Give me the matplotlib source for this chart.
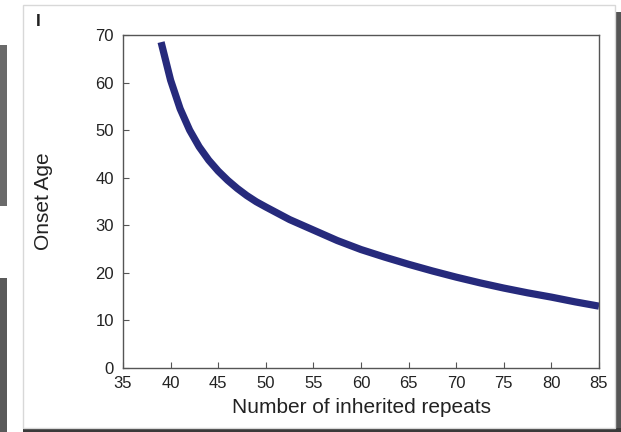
import matplotlib.pyplot as plt
from matplotlib.patches import Rectangle

plt.rcParams['font.family'] = ['Liberation Sans', 'DejaVu Sans']

# values
repeats = [39, 40, 41, 42, 43, 44, 45, 46, 47, 48, 49, 50, 52.5, 55, 57.5,
           60, 62.5, 65, 67.5, 70, 72.5, 75, 77.5, 80, 82.5, 85]
onset_age = [68.5, 60.5, 54.5, 50.0, 46.5, 43.7, 41.4, 39.45, 37.75, 36.25,
             34.95, 33.85, 31.2, 29.0, 26.8, 24.9, 23.3, 21.8, 20.4, 19.1,
             17.9, 16.8, 15.8, 14.9, 13.9, 13.0]

x_ticks = [35, 40, 45, 50, 55, 60, 65, 70, 75, 80, 85]
y_ticks = [0, 10, 20, 30, 40, 50, 60, 70]

W, H = 621, 432
fig = plt.figure(figsize=(W / 100, H / 100), dpi=100, facecolor="white")

# page frame and the dark edges around it (kept behind the axes)
def px_rect(x0, y0, x1, y1, **kw):
    fig.patches.append(Rectangle((x0 / W, 1 - y1 / H), (x1 - x0) / W,
                                 (y1 - y0) / H, transform=fig.transFigure,
                                 zorder=-10, **kw))

px_rect(0, 45, 7, 206, facecolor="#6a6a6a", edgecolor="none")
px_rect(0, 278, 7, 432, facecolor="#5a5a5a", edgecolor="none")
px_rect(616, 12, 621, 432, facecolor="#555555", edgecolor="none")
px_rect(23, 428, 621, 432, facecolor="#3a3a3a", edgecolor="none")
px_rect(23, 5, 615, 428, facecolor="white", edgecolor="#d8d8d8", lw=1)

ax = fig.add_axes([123 / W, 1 - 368 / H, (599 - 123) / W, (368 - 35) / H])
ax.set_zorder(5)
ax.patch.set_alpha(0)
ax.plot(repeats, onset_age, color="#262a7c", lw=5.2,
        solid_capstyle="butt", solid_joinstyle="round")

ax.set_xlim(35, 85)
ax.set_ylim(0, 70)
ax.set_xticks(x_ticks)
ax.set_yticks(y_ticks)
ax.tick_params(direction="in", length=4, width=0.8, color="#555555",
               labelsize=12, labelcolor="#222222")
ax.tick_params(axis="x", pad=6)
ax.tick_params(axis="y", pad=6.5)
for s in ax.spines.values():
    s.set_color("#555555")
    s.set_linewidth(1.0)

ax.set_xlabel("Number of inherited repeats", fontsize=15, color="#222222",
              labelpad=5)
ax.set_ylabel("Onset Age", fontsize=15, color="#222222", labelpad=30.5)

fig.text(38 / W, 1 - 21 / H, "I", fontsize=12.5, fontweight="bold",
         color="#222222", ha="center", va="center", zorder=6)

fig.savefig("out.png", dpi=100, facecolor="white")
